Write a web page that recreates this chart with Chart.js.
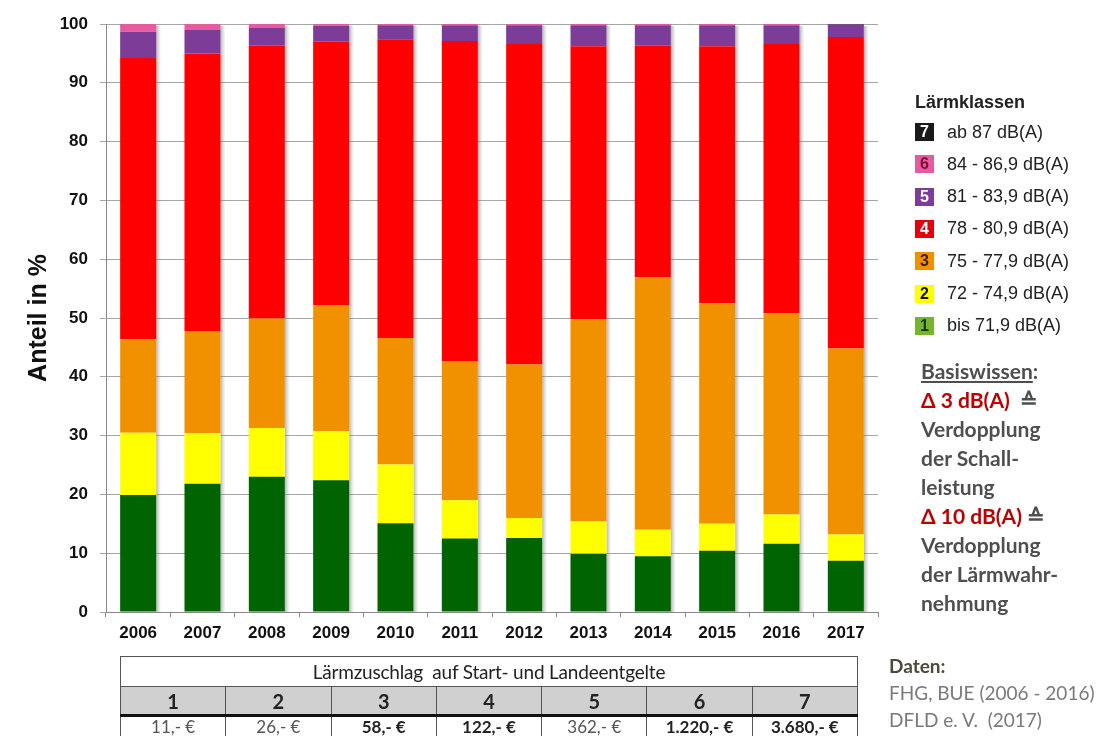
<!DOCTYPE html>
<html><head><meta charset="utf-8">
<script src="https://cdn.jsdelivr.net/npm/chart.js@4"></script>
<style>
body{margin:0;background:#fff;width:1109px;height:736px;overflow:hidden;position:relative;font-family:"Liberation Sans",Arial,sans-serif;}
#wrap{position:absolute;left:0;top:0;width:1109px;height:736px;}
.abs{position:absolute;white-space:nowrap;}
.leg{position:absolute;left:915px;height:20px;display:flex;align-items:center;font-size:18px;color:#222;white-space:nowrap;}
.sw{width:19px;height:18px;display:inline-flex;align-items:center;justify-content:center;font-weight:bold;font-size:16px;margin-right:13px;}
.bw{position:absolute;left:921px;font-family:Lato,"Open Sans",sans-serif;font-weight:bold;font-size:21px;color:#4f4f4f;line-height:22px;white-space:nowrap;}
table{border-collapse:collapse;font-family:Lato,"Open Sans",sans-serif;}
td{border:1.5px solid #555;text-align:center;padding:0;}
</style></head><body>
<div id="wrap"><canvas id="c" width="1109" height="736"></canvas></div>
<script>
const years = ['2006','2007','2008','2009','2010','2011','2012','2013','2014','2015','2016','2017'];
const klasse1 = [19.9,21.8,23.0,22.4,15.1,12.5,12.6,9.9,9.5,10.4,11.6,8.7];
const klasse2 = [10.6,8.6,8.3,8.4,10.0,6.5,3.4,5.5,4.5,4.6,5.0,4.5];
const klasse3 = [15.9,17.4,18.6,21.4,21.5,23.7,26.1,34.4,42.9,37.5,34.2,31.6];
const klasse4 = [47.8,47.2,46.4,44.8,50.8,54.4,54.5,46.4,39.4,43.7,45.8,53.0];
const klasse5 = [4.5,4.0,3.0,2.7,2.4,2.7,3.2,3.6,3.5,3.6,3.2,2.1];
const klasse6 = [1.3,1.0,0.7,0.3,0.2,0.2,0.2,0.2,0.2,0.2,0.2,0.0];
const klasse7 = [0,0,0,0,0,0,0,0,0,0,0,0.1];
const classLabels = ['bis 71,9 dB(A)','72 - 74,9 dB(A)','75 - 77,9 dB(A)','78 - 80,9 dB(A)','81 - 83,9 dB(A)','84 - 86,9 dB(A)','ab 87 dB(A)'];
const yTicks = [0,10,20,30,40,50,60,70,80,90,100];
const feeClasses = ['1','2','3','4','5','6','7'];
const fees = ['11,- €','26,- €','58,- €','122,- €','362,- €','1.220,- €','3.680,- €'];
const feeBold = [false,false,true,true,false,true,true];

const barColors = ['#006400','#ffff00','#f29100','#ff0000','#7d3c98','#e65a9f','#1a1a1a'];
const legendColors = ['#78b52e','#ffff00','#f29100','#e3000f','#7d3c98','#e65a9f','#1a1a1a'];
const legendNumColors = ['#1a3300','#111','#3a2000','#fff','#fff','#7a1030','#fff'];
const series = [klasse1,klasse2,klasse3,klasse4,klasse5,klasse6,klasse7];

const shadowPlugin = {
  id:'shadow',
  beforeDatasetsDraw(chart){
    const ctx = chart.ctx;
    const metas = chart.getSortedVisibleDatasetMetas();
    const base = chart.scales.y.getPixelForValue(0);
    years.forEach((y,i)=>{
      let top = base, bar = null;
      metas.forEach(m=>{const el=m.data[i]; if(el){bar=el; top=Math.min(top, el.y);} });
      if(!bar) return;
      const right = bar.x + bar.width/2;
      const g = ctx.createLinearGradient(right,0,right+5,0);
      g.addColorStop(0,'rgba(120,120,120,0.55)');
      g.addColorStop(1,'rgba(160,160,160,0)');
      ctx.save(); ctx.fillStyle=g; ctx.fillRect(right, top+2, 5, base-top-2); ctx.restore();
    });
  }
};

new Chart(document.getElementById('c'), {
  type:'bar',
  data:{labels:years, datasets: series.map((d,k)=>({label:classLabels[k], data:d, backgroundColor:barColors[k], borderWidth:0, barPercentage:0.56, categoryPercentage:1}))},
  options:{
    responsive:false, animation:false,
    layout:{padding:{left:0,top:24,right:231,bottom:84}},
    plugins:{legend:{display:false}, tooltip:{enabled:false}},
    scales:{
      x:{stacked:true,
        grid:{display:true,drawOnChartArea:false,drawTicks:true,tickLength:5,color:'#888',offset:true},
        border:{color:'#888',width:1},
        ticks:{color:'#111',font:{family:'"Liberation Sans",Arial',size:17,weight:'bold'},padding:6,maxRotation:0},
        afterFit(s){s.height=40;}
      },
      y:{stacked:true,min:0,max:100,
        afterBuildTicks(s){s.ticks=yTicks.map(v=>({value:v}));},
        grid:{color:'#a6a6a6',lineWidth:1,tickLength:6},
        border:{color:'#888',width:1},
        ticks:{color:'#111',font:{family:'"Liberation Sans",Arial',size:17,weight:'bold'},padding:12},
        title:{display:true,text:'Anteil in %',color:'#111',font:{family:'"Liberation Sans",Arial',size:25,weight:'bold'},padding:{top:24,bottom:0}},
        afterFit(s){s.width=106;}
      }
    }
  },
  plugins:[shadowPlugin]
});

// legend
const wrap = document.getElementById('wrap');
const t = document.createElement('div'); t.className='abs';
t.style.cssText='left:915px;top:92px;font-size:18px;font-weight:bold;color:#222;';
t.textContent='Lärmklassen'; wrap.appendChild(t);
for(let i=0;i<7;i++){
  const k = 6-i;
  const d = document.createElement('div'); d.className='leg';
  d.style.top=(122+i*32.3)+'px';
  const s=document.createElement('span'); s.className='sw'; s.style.background=legendColors[k]; s.style.color=legendNumColors[k]; s.textContent=feeClasses[k];
  d.appendChild(s); d.appendChild(document.createTextNode(classLabels[k]));
  wrap.appendChild(d);
}
// Basiswissen
const bwLines = [
  ['<span style="text-decoration:underline">Basiswissen</span>:',0],
  ['<span style="color:#c00000">Δ 3 dB(A)</span>&nbsp; ≙',1],
  ['Verdopplung',2],['der Schall-',3],['leistung',4],
  ['<span style="color:#c00000">Δ 10 dB(A)</span> ≙',5],
  ['Verdopplung',6],['der Lärmwahr-',7],['nehmung',8]
];
bwLines.forEach(([h,i])=>{const d=document.createElement('div'); d.className='bw'; d.style.top=(360+i*29)+'px'; d.innerHTML=h; wrap.appendChild(d);});

// table
const tb = document.createElement('table');
tb.style.cssText='position:absolute;left:120px;top:656px;width:738px;table-layout:fixed;';
let html = '<tr><td colspan="7" style="height:29px;font-size:19px;letter-spacing:-0.2px;color:#222;">Lärmzuschlag&nbsp; auf Start- und Landeentgelte</td></tr><tr>';
feeClasses.forEach(c=>{html+='<td style="height:27px;background:#d0d0d0;font-size:20px;font-weight:bold;color:#222;border-bottom:3px solid #111;">'+c+'</td>';});
html+='</tr><tr>';
fees.forEach((f,i)=>{html+='<td style="height:24px;line-height:20px;vertical-align:top;padding-top:0px;font-size:17px;'+(feeBold[i]?'font-weight:bold;color:#222;':'color:#555;')+'">'+f+'</td>';});
html+='</tr>';
tb.innerHTML=html; wrap.appendChild(tb);

// source
const src = document.createElement('div'); src.className='abs';
src.style.cssText='left:889px;top:652px;font-family:Lato,"Open Sans",sans-serif;font-size:19px;line-height:27px;color:#7a7a7a;';
src.innerHTML='<div style="font-weight:bold;color:#4d4a3a;">Daten:</div><div>FHG, BUE (2006 - 2016)</div><div>DFLD e. V.&nbsp; (2017)</div>';
wrap.appendChild(src);
</script>
</body></html>
